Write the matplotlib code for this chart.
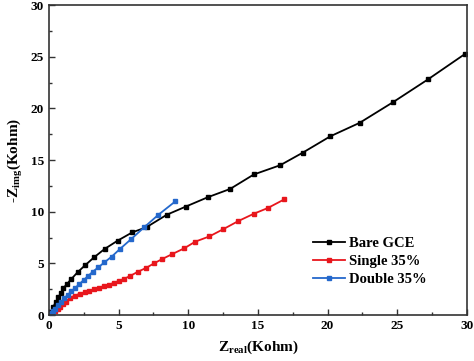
import matplotlib
matplotlib.use("Agg")
import matplotlib.pyplot as plt
from matplotlib.ticker import MultipleLocator

plt.rcParams['font.family'] = ['Liberation Serif', 'DejaVu Serif']
plt.rcParams['font.weight'] = 'bold'
plt.rcParams['mathtext.fontset'] = 'custom'
plt.rcParams['mathtext.rm'] = 'Liberation Serif:bold'
plt.rcParams['mathtext.bf'] = 'Liberation Serif:bold'

# Nyquist data (Kohm)
bare_x = [0, 0.14, 0.31, 0.5, 0.67, 0.84, 1.03, 1.29, 1.58, 2.06, 2.58, 3.25, 4.0,
          4.93, 5.98, 7.0, 8.45, 9.83, 11.4, 13.0, 14.7, 16.6, 18.2, 20.2, 22.3,
          24.7, 27.2, 29.9]
bare_y = [0, 0.3, 0.8, 1.3, 1.7, 2.1, 2.6, 3.0, 3.45, 4.15, 4.8, 5.6, 6.4,
          7.2, 8.0, 8.5, 9.7, 10.5, 11.4, 12.2, 13.6, 14.5, 15.7, 17.3, 18.6,
          20.6, 22.8, 25.3]

single_x = [0, 0.12, 0.25, 0.43, 0.62, 0.8, 1.0, 1.2, 1.5, 1.85, 2.2, 2.55, 2.9,
            3.25, 3.6, 3.95, 4.3, 4.65, 5.0, 5.4, 5.85, 6.4, 6.96, 7.54, 8.1,
            8.85, 9.7, 10.5, 11.5, 12.5, 13.6, 14.7, 15.7, 16.9]
single_y = [0, 0.1, 0.2, 0.35, 0.55, 0.8, 1.05, 1.3, 1.65, 1.88, 2.05, 2.2, 2.35,
            2.5, 2.65, 2.8, 2.95, 3.1, 3.3, 3.5, 3.8, 4.2, 4.55, 5.0, 5.4,
            5.9, 6.45, 7.1, 7.6, 8.3, 9.1, 9.8, 10.35, 11.2]

double_x = [0, 0.1, 0.2, 0.3, 0.45, 0.65, 0.88, 1.1, 1.35, 1.6, 1.88, 2.17, 2.48,
            2.8, 3.15, 3.55, 3.98, 4.5, 5.1, 5.9, 6.84, 7.85, 9.07]
double_y = [0, 0.05, 0.15, 0.35, 0.6, 0.95, 1.3, 1.62, 1.95, 2.28, 2.62, 2.98, 3.37,
            3.77, 4.2, 4.62, 5.1, 5.65, 6.4, 7.35, 8.5, 9.7, 11.0]

labels = ['Bare GCE', 'Single 35%', 'Double 35%']
colors = ['black', '#e8161c', '#2468cc']

fig = plt.figure(figsize=(4.74, 3.61), dpi=100)
ax = fig.add_axes([0.1034, 0.1274, 0.8816, 0.8586])

for xs, ys, lab, c in zip([bare_x, single_x, double_x],
                          [bare_y, single_y, double_y], labels, colors):
    ax.plot(xs, ys, '-s', color=c, lw=1.3, ms=2.3, label=lab)

ax.set_xlim(0, 30)
ax.set_ylim(0, 30)
ax.xaxis.set_major_locator(MultipleLocator(5))
ax.xaxis.set_minor_locator(MultipleLocator(2.5))
ax.yaxis.set_major_locator(MultipleLocator(5))
ax.yaxis.set_minor_locator(MultipleLocator(2.5))
ax.tick_params(which='both', direction='in', top=False, right=False,
               labelsize=9.5, width=1.0, color='#333333')
ax.tick_params(which='major', length=4)
ax.tick_params(which='minor', length=2.5)
for lbl in ax.get_xticklabels() + ax.get_yticklabels():
    lbl.set_fontweight('bold')
for s in ax.spines.values():
    s.set_linewidth(1.2)
    s.set_color('#333333')

ax.set_xlabel(r'Z$_{\mathrm{real}}$(Kohm)', fontsize=11, fontweight='bold', labelpad=5)
ax.set_ylabel(r'-Z$_{\mathrm{img}}$(Kohm)', fontsize=11, fontweight='bold', labelpad=4)

ax.legend(loc='upper left', bbox_to_anchor=(0.617, 0.272), frameon=False,
          prop={'size': 10.5, 'weight': 'bold'}, handlelength=2.2,
          handletextpad=0.3, labelspacing=0.35, borderaxespad=0)

fig.savefig('out.png', dpi=100)
